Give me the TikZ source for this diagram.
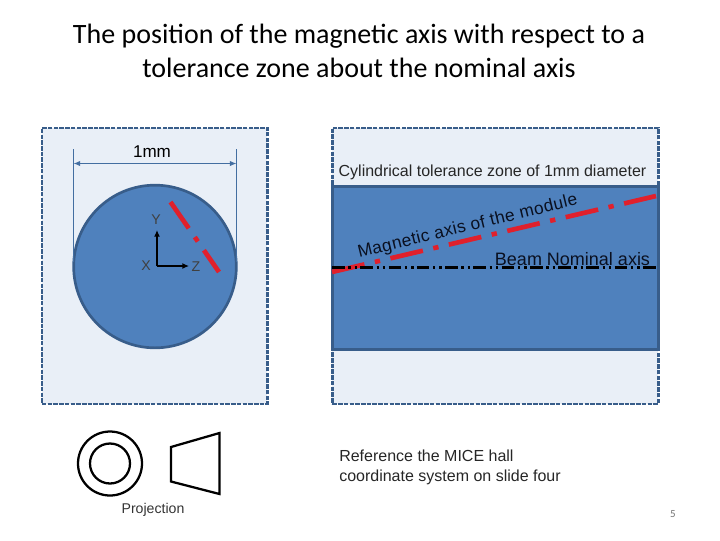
\documentclass[tikz,border=0pt]{standalone}
\usepackage{fontspec}
\setmainfont{Liberation Sans}
\newfontfamily\calib{Carlito}
\newfontfamily\spaced[LetterSpace=2.5]{Liberation Sans}
\usetikzlibrary{arrows.meta}
\definecolor{pale}{HTML}{E9EFF7}
\definecolor{steel}{HTML}{4F81BD}
\definecolor{edge}{HTML}{385D8A}
\definecolor{redax}{HTML}{E0202C}
\definecolor{inktext}{HTML}{0A1020}
\tikzset{
 panel/.style={draw=edge,line width=2pt,fill=pale,dash pattern=on 3.4pt off 0.9pt},
 body/.style={draw=edge,line width=2pt,fill=steel},
 lab/.style={inner sep=0pt,font=\fontsize{12pt}{14pt}\selectfont},
 small/.style={inner sep=0pt,text=black!75,font=\fontsize{10.6pt}{12pt}\selectfont},
 dim/.style={draw=steel!85!black,line width=0.7pt},
 redline/.style={draw=redax,line width=3.5pt,dash pattern=on 25pt off 8pt on 4pt off 8pt},
 blackline/.style={draw=black,line width=2pt,dash pattern=on 9.5pt off 2.7pt on 1.8pt off 3pt on 1.8pt off 2.4pt},
 axisarrow/.style={draw=black,line width=1.6pt,-{Latex[length=5pt,width=4.5pt]}},
 outline/.style={draw=black,line width=1.7pt},
}
\begin{document}
\begin{tikzpicture}[x=0.75pt,y=-0.75pt]
\useasboundingbox (0,0) rectangle (720,540);
\node[inner sep=0pt,align=center,font=\calib\fontsize{21pt}{25pt}\selectfont] (title) at (359,51) {The position of the magnetic axis with respect to a\\tolerance zone about the nominal axis};
% left panel
\node[panel,minimum width=169.2pt,minimum height=207pt,inner sep=0pt,anchor=north west] (leftpanel) at (40.5,126.5) {};
\node[body,circle,minimum size=122pt,inner sep=0pt] (disc) at (155,266.5) {};
\coordinate (dl) at (73.5,149); \coordinate (dr) at (236.5,149);
\coordinate (dlb) at (73.5,262); \coordinate (drb) at (236.5,262);
\coordinate (al) at (73.5,163.5); \coordinate (ar) at (236.5,163.5);
\draw[dim] (dl) -- (dlb);
\draw[dim] (dr) -- (drb);
\draw[dim,{Latex[length=5pt,width=4pt]}-{Latex[length=5pt,width=4pt]}] (al) -- (ar);
\node[lab,font=\fontsize{12.8pt}{14pt}\selectfont] (mm) at (152,151.5) {1mm};
\coordinate (ra) at (170.5,202); \coordinate (rb) at (219,272);
\draw[draw=redax,line width=3.5pt,dash pattern=on 24pt off 8pt on 4pt off 8pt] (ra) -- (rb);
\coordinate (o) at (157,266);
\coordinate (oy) at (157,230); \coordinate (oz) at (189,266);
\draw[axisarrow] (o) -- (oy);
\draw[axisarrow] (o) -- (oz);
\node[small] (ylab) at (156,220) {Y};
\node[small] (xlab) at (146,265.5) {X};
\node[small] (zlab) at (196,266.5) {Z};
% right panel
\node[panel,minimum width=244.5pt,minimum height=207pt,inner sep=0pt,anchor=north west] (rightpanel) at (331,126.5) {};
\node[body,minimum width=244.5pt,minimum height=122.5pt,inner sep=0pt,anchor=north west] (zone) at (331,185) {};
\node[lab,text=black!85] (cyl) at (492.5,172.5) {Cylindrical tolerance zone of 1mm diameter};
\coordinate (ml) at (332,272); \coordinate (mr) at (656,196);
\draw[redline] (ml) -- (mr);
\coordinate (bl) at (332,267.5); \coordinate (br) at (658,267.5);
\draw[blackline] (bl) -- (br);
\node[inner sep=0pt,anchor=base west,rotate=13.7,font=\spaced\fontsize{13pt}{15pt}\selectfont,text=inktext] (mag) at (359,258) {Magnetic axis of the module};
\node[lab,font=\fontsize{13.5pt}{15pt}\selectfont,text=inktext] (beam) at (572.5,259.5) {Beam Nominal axis};
% projection
\node[outline,circle,minimum size=48pt,inner sep=0pt] (outer) at (110,463.5) {};
\node[outline,circle,minimum size=30pt,inner sep=0pt] (inner) at (110,463.5) {};
\coordinate (p1) at (171,447); \coordinate (p2) at (219.5,433); \coordinate (p3) at (219.5,494); \coordinate (p4) at (171,481.5);
\draw[outline] (p1) -- (p2) -- (p3) -- (p4) -- cycle;
\node[small,text=black!80] (proj) at (153,509.5) {Projection};
% notes
\node[lab,anchor=west,align=left,font=\fontsize{12pt}{14.6pt}\selectfont,text=black!85] (note) at (339,467.5) {Reference the MICE hall\\coordinate system on slide four};
\node[inner sep=0pt,font=\calib\fontsize{8.2pt}{10pt}\selectfont,text=black!55] (page) at (673,514) {5};
\end{tikzpicture}
\end{document}
